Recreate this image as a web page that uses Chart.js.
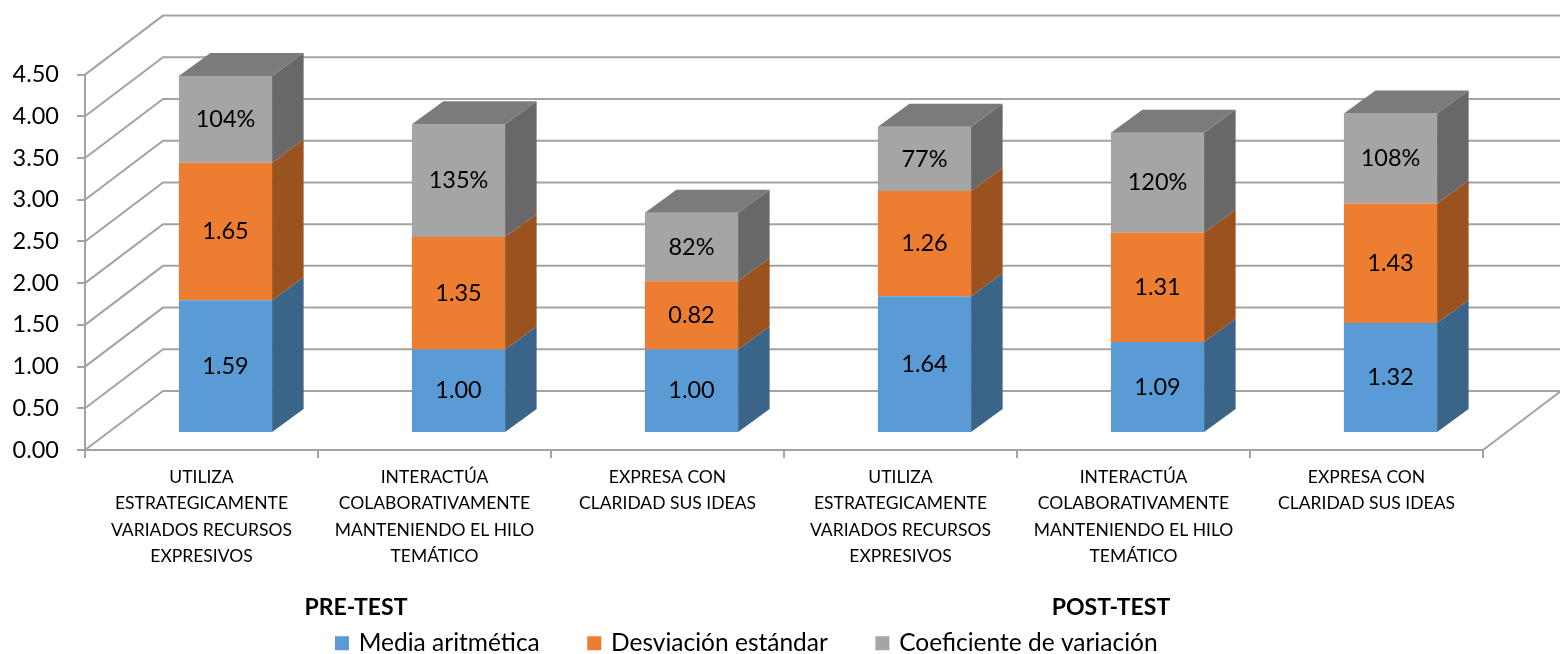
<!DOCTYPE html>
<html><head><meta charset="utf-8">
<style>html,body{margin:0;padding:0;background:#fff;overflow:hidden}canvas{display:block}</style>
<script src="https://cdn.jsdelivr.net/npm/chart.js@4/dist/chart.umd.js"></script>
</head><body><canvas id="c" width="1560" height="654"></canvas>
<script>
const categories = [
  ['UTILIZA','ESTRATEGICAMENTE','VARIADOS RECURSOS','EXPRESIVOS'],
  ['INTERACTÚA','COLABORATIVAMENTE','MANTENIENDO EL HILO','TEMÁTICO'],
  ['EXPRESA CON','CLARIDAD SUS IDEAS'],
  ['UTILIZA','ESTRATEGICAMENTE','VARIADOS RECURSOS','EXPRESIVOS'],
  ['INTERACTÚA','COLABORATIVAMENTE','MANTENIENDO EL HILO','TEMÁTICO'],
  ['EXPRESA CON','CLARIDAD SUS IDEAS']
];
const media = [1.59,1.00,1.00,1.64,1.09,1.32];
const desviacion = [1.65,1.35,0.82,1.26,1.31,1.43];
const coeficiente = [1.04,1.35,0.82,0.77,1.20,1.08];
const groupLabels = ['PRE-TEST','POST-TEST'];
const FONT = 'Lato';
const WALL = {dx:78, dy:-59, color:'#A3A3A3', w:2};
const BAR = {sx:24, sy:-17, dx:31.5, dy:-23};
const FACE = [
  {side:'#3A6488'},
  {side:'#9A521F'},
  {side:'#686868', top:'#7B7B7B'}
];
const threeD = {
  id:'threeD',
  afterLayout(chart){
    const l = chart.legend;
    l.top = 581; l.bottom = 701;
    l.left += 6; l.right += 6;
  },
  beforeDatasetsDraw(chart){
    const {ctx, scales:{x,y}} = chart;
    ctx.save();
    ctx.strokeStyle = WALL.color; ctx.lineWidth = WALL.w;
    y.ticks.forEach(t=>{
      const py = y.getPixelForValue(t.value);
      ctx.beginPath();
      ctx.moveTo(x.left,py);
      ctx.lineTo(x.left+WALL.dx,py+WALL.dy);
      ctx.lineTo(x.right+WALL.dx,py+WALL.dy);
      ctx.stroke();
    });
    const by = y.getPixelForValue(0);
    ctx.beginPath();
    ctx.moveTo(x.right,by);
    ctx.lineTo(x.right+WALL.dx,by+WALL.dy);
    ctx.stroke();
    ctx.restore();
    ctx.save();
    ctx.translate(BAR.sx,BAR.sy);
  },
  afterDatasetsDraw(chart){
    const {ctx} = chart;
    const last = chart.data.datasets.length-1;
    chart.data.datasets.forEach((ds,di)=>{
      chart.getDatasetMeta(di).data.forEach(b=>{
        const r = b.x+b.width/2, l = b.x-b.width/2;
        ctx.fillStyle = FACE[di].side;
        ctx.beginPath();
        ctx.moveTo(r,b.y);
        ctx.lineTo(r+BAR.dx,b.y+BAR.dy);
        ctx.lineTo(r+BAR.dx,b.base+BAR.dy);
        ctx.lineTo(r,b.base);
        ctx.closePath(); ctx.fill();
        if(di===last){
          ctx.fillStyle = FACE[di].top;
          ctx.beginPath();
          ctx.moveTo(l,b.y);
          ctx.lineTo(l+BAR.dx,b.y+BAR.dy);
          ctx.lineTo(r+BAR.dx,b.y+BAR.dy);
          ctx.lineTo(r,b.y);
          ctx.closePath(); ctx.fill();
        }
      });
    });
    ctx.fillStyle='#000';
    ctx.font = '23.5px '+FONT;
    ctx.textAlign='center'; ctx.textBaseline='middle';
    chart.data.datasets.forEach((ds,di)=>{
      chart.getDatasetMeta(di).data.forEach((b,i)=>{
        const v = ds.data[i];
        const txt = di===2 ? Math.round(v*100)+'%' : v.toFixed(2);
        ctx.fillText(txt,b.x,(b.y+b.base)/2);
      });
    });
    ctx.restore();
    ctx.save();
    ctx.fillStyle='#000';
    ctx.font='bold 23px '+FONT;
    ctx.textAlign='center'; ctx.textBaseline='middle';
    ctx.fillText(groupLabels[0],356,608);
    ctx.fillText(groupLabels[1],1111,608);
    ctx.restore();
  }
};
new Chart(document.getElementById('c'),{
  type:'bar',
  data:{labels:categories,datasets:[
    {label:'Media aritmética',data:media,backgroundColor:'#5B9BD5',borderWidth:0,stack:'s'},
    {label:'Desviación estándar',data:desviacion,backgroundColor:'#ED7D31',borderWidth:0,stack:'s'},
    {label:'Coeficiente de variación',data:coeficiente,backgroundColor:'#A5A5A5',borderWidth:0,stack:'s'}
  ]},
  options:{
    responsive:false,animation:false,
    layout:{padding:{left:0,top:74.6,right:77,bottom:0}},
    datasets:{bar:{barPercentage:0.4,categoryPercentage:1,clip:false}},
    plugins:{
      tooltip:{enabled:false},title:{display:false},
      legend:{position:'bottom',align:'center',labels:{
        font:{family:FONT,size:24.5},color:'#000',boxWidth:9,boxHeight:9,padding:50,
        generateLabels(chart){
          return Chart.defaults.plugins.legend.labels.generateLabels(chart)
            .map(i=>({...i,lineWidth:5,strokeStyle:i.fillStyle}));
        }
      }}
    },
    scales:{
      x:{stacked:true,
        afterFit(s){s.height=204-s.chart.legend.height;},
        border:{color:WALL.color,width:WALL.w},
        grid:{drawOnChartArea:false,drawTicks:true,tickLength:8,color:WALL.color,lineWidth:WALL.w,offset:true},
        ticks:{autoSkip:false,maxRotation:0,minRotation:0,color:'#000',padding:6,font:{family:FONT,size:17.5,lineHeight:1.514}}
      },
      y:{stacked:true,min:0,max:4.5,
        afterFit(s){s.width=85;},
        border:{color:WALL.color,width:WALL.w},
        grid:{drawOnChartArea:false,tickLength:8,color:WALL.color,lineWidth:WALL.w},
        ticks:{stepSize:0.5,color:'#000',padding:18,font:{family:FONT,size:23.5},callback:v=>Number(v).toFixed(2)}
      }
    }
  },
  plugins:[threeD]
});
</script></body></html>
